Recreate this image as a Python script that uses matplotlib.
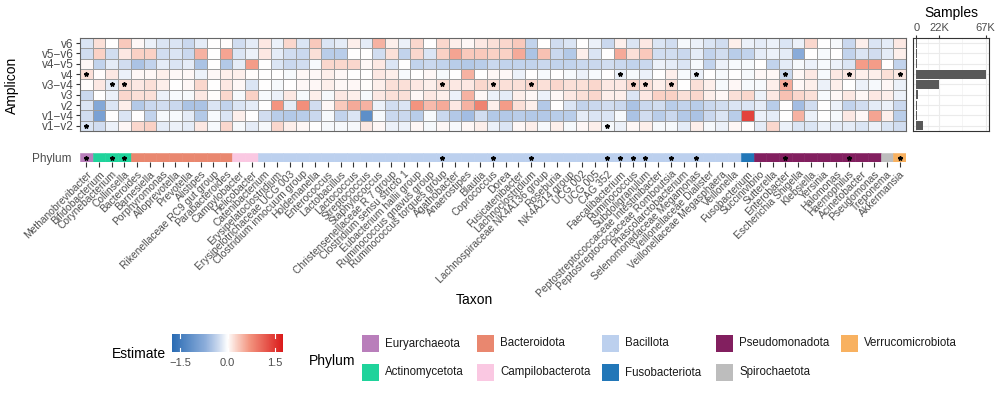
import numpy as np
import matplotlib
matplotlib.use("Agg")
import matplotlib.pyplot as plt
from matplotlib.colors import LinearSegmentedColormap, Normalize
from matplotlib.patches import Rectangle

plt.rcParams['font.family'] = ['Liberation Sans', 'DejaVu Sans']

# taxa, left to right
taxa = ["Methanobrevibacter", "Bifidobacterium", "Corynebacterium", "Collinsella",
        "Bacteroides", "Barnesiella", "Porphyromonas", "Alloprevotella", "Prevotella",
        "Alistipes", "Rikenellaceae RC9 gut group", "Parabacteroides",
        "Campylobacter", "Helicobacter",
        "Catenibacterium", "Erysipelatoclostridium", "Erysipelotrichaceae UCG 003",
        "Clostridium innocuum group", "Holdemanella", "Enterococcus", "Lactobacillus",
        "Lactococcus", "Streptococcus", "Staphylococcus", "Christensenellaceae R 7 group",
        "Clostridium sensu stricto 1", "Eubacterium hallii group", "Ruminococcus gnavus group",
        "Ruminococcus torques group", "Agathobacter", "Anaerostipes", "Blautia",
        "Coprococcus", "Dorea", "Fusicatenibacter", "Lachnoclostridium",
        "Lachnospiraceae NK4A136 group", "Roseburia", "NK4A214 group", "UCG 002",
        "UCG 005", "CAG 352", "Faecalibacterium", "Ruminococcus", "Subdoligranulum",
        "Peptostreptococcaceae Intestinibacter", "Peptostreptococcaceae Romboutsia",
        "Phascolarctobacterium", "Selenomonadaceae Megamonas", "Veillonellaceae Dialister",
        "Veillonellaceae Megasphaera", "Veillonella",
        "Fusobacterium",
        "Succinivibrio", "Sutterella", "Enterobacter", "Escherichia Shigella", "Klebsiella",
        "Yersinia", "Halomonas", "Haemophilus", "Acinetobacter", "Pseudomonas",
        "Treponema", "Akkermansia"]

phyla = ["Euryarchaeota", "Actinomycetota", "Bacteroidota", "Campilobacterota", "Bacillota",
         "Fusobacteriota", "Pseudomonadota", "Spirochaetota", "Verrucomicrobiota"]
phylum_counts = [1, 3, 8, 2, 38, 1, 10, 1, 1]
phylum_colors = ["#B97EBB", "#1FD39B", "#E9876F", "#FAC8E2", "#BCD0EE",
                 "#2277B8", "#821F5F", "#BDBDBD", "#F8B160"]

amplicons = ["v6", "v5\u2212v6", "v4\u2212v5", "v4", "v3\u2212v4", "v3", "v2", "v1\u2212v4", "v1\u2212v2"]

est_v6 = [-0.2, 0.2, 0.0, 0.35, 0.05, -0.1, -0.2, -0.2, -0.3, -0.15, 0.0, 0.02, -0.25,
          -0.15, 0.15, -0.1, 0.25, -0.2, 0.35, -0.2, -0.15, 0.1, -0.15, 0.5, 0.1, -0.1,
          0.25, 0.0, 0.25, 0.1, 0.05, 0.15, 0.2, 0.25, 0.35, -0.35, 0.0, -0.25, -0.2,
          0.0, -0.1, -0.3, 0.1, -0.2, 0.15, -0.2, -0.25, -0.05, -0.1, -0.2, -0.25, 0.1,
          -0.1, -0.15, -0.1, -0.2, -0.1, 0.25, 0.0, -0.05, -0.3, 0.1, -0.2, -0.15, 0.15]
est_v5v6 = [-0.25, 0.3, -0.25, 0.15, 0.3, 0.3, -0.25, -0.2, -0.3, 0.5, 0.0, 0.6, -0.2,
            -0.1, 0.15, -0.15, -0.25, -0.3, 0.2, -0.4, -0.4, 0.0, 0.0, -0.25, 0.2, -0.35,
            0.25, -0.2, 0.3, 0.6, 0.35, 0.35, 0.3, 0.3, 0.55, -0.5, 0.4, -0.3, -0.45,
            0.1, -0.2, 0.0, 0.55, 0.2, 0.35, -0.25, -0.25, -0.3, -0.15, -0.35, -0.25, -0.4,
            -0.35, -0.15, -0.1, -0.15, -0.75, 0.0, -0.05, 0.0, -0.35, -0.2, -0.25, -0.15, 0.1]
est_v4v5 = [0.05, -0.35, -0.15, -0.25, -0.5, -0.35, -0.15, -0.2, -0.15, -0.5, 0.0, -0.45, -0.15,
            0.65, 0.0, -0.2, -0.3, -0.25, -0.05, 0.25, 0.25, 0.25, 0.05, 0.15, -0.2, 0.0,
            -0.35, -0.3, -0.35, -0.4, -0.45, -0.4, -0.3, -0.35, -0.35, -0.35, -0.3, -0.35, -0.35,
            -0.3, -0.3, -0.25, -0.3, -0.35, -0.3, -0.1, -0.15, -0.2, -0.05, -0.35, -0.1, -0.05,
            -0.05, 0.0, -0.35, -0.15, -0.05, -0.1, -0.05, -0.1, -0.2, 0.65, 0.65, 0.0, -0.35]
est_v4 = [0.2, 0.02, 0.15, -0.1, 0.05, 0.05, 0.1, 0.05, 0.05, -0.1, 0.05, 0.1, 0.1,
          0.02, 0.0, 0.0, -0.05, 0.05, 0.05, 0.1, 0.05, 0.0, 0.0, 0.15, 0.1, -0.05,
          0.0, 0.05, -0.05, 0.0, 0.5, 0.0, 0.05, 0.05, -0.1, 0.0, -0.05, 0.0, -0.05,
          -0.1, -0.05, 0.0, -0.1, -0.05, -0.1, 0.0, 0.1, -0.05, -0.1, 0.0, -0.05, 0.0,
          -0.05, 0.05, 0.05, -0.3, 0.05, 0.15, -0.05, 0.15, 0.15, 0.1, 0.1, 0.2, 0.15]
est_v3v4 = [0.02, 0.15, -0.15, 0.2, 0.15, 0.2, 0.1, 0.0, 0.05, 0.25, 0.0, 0.15, 0.05,
            -0.2, 0.0, -0.05, 0.0, 0.05, 0.05, 0.1, 0.05, 0.05, 0.02, 0.1, 0.2, 0.2,
            0.15, 0.1, 0.2, 0.15, 0.15, 0.25, 0.2, 0.2, 0.2, 0.25, 0.2, 0.25, 0.2,
            0.2, 0.25, 0.15, 0.15, 0.25, 0.2, 0.1, 0.2, 0.0, 0.2, 0.1, -0.05, 0.05,
            -0.05, -0.05, 0.1, 0.55, 0.05, 0.1, -0.1, 0.1, 0.0, -0.1, -0.05, 0.05, -0.1]
est_v3 = [-0.3, 0.0, -0.1, 0.25, 0.2, 0.2, -0.1, -0.05, -0.05, 0.15, 0.02, 0.25, -0.05,
          0.3, -0.05, -0.1, 0.15, -0.05, 0.1, -0.05, 0.15, 0.1, -0.05, 0.15, 0.2, 0.2,
          0.05, 0.15, 0.1, -0.1, 0.5, 0.05, -0.1, -0.15, 0.1, 0.05, -0.1, 0.05, 0.15,
          0.2, 0.25, 0.1, 0.1, -0.2, 0.15, 0.3, 0.3, 0.2, 0.25, 0.1, 0.05, 0.2,
          0.25, -0.1, 0.15, 0.4, 0.25, 0.2, -0.05, 0.05, 0.15, 0.05, 0.15, 0.1, -0.1]
est_v2 = [-0.2, -0.8, -0.2, 0.1, -0.45, -0.3, -0.25, -0.3, -0.5, -0.5, -0.2, -0.35, -0.2,
          -0.15, 0.0, 0.7, -0.15, 0.75, -0.25, 0.05, 0.35, 0.55, 0.5, -0.1, -0.25, -0.2,
          0.7, 0.45, 0.55, 0.15, 0.5, 0.85, 0.1, 0.65, 0.2, 0.1, -0.45, 0.0, -0.2,
          -0.35, -0.3, -0.25, -0.3, -0.5, -0.3, -0.25, -0.4, -0.35, -0.4, -0.3, -0.25, -0.2,
          -0.2, -0.15, -0.4, 0.0, -0.55, -0.25, 0.0, -0.1, -0.35, -0.25, -0.15, -0.1, -0.3]
est_v1v4 = [-0.25, -0.9, 0.0, -0.2, 0.0, -0.35, -0.05, -0.05, -0.15, -0.45, -0.05, -0.2, 0.1,
            0.0, -0.25, -0.4, -0.45, -0.4, -0.3, -0.05, -0.35, -0.2, -1.2, -0.05, -0.3, -0.3,
            -0.4, -0.05, -0.3, -0.45, -0.55, -0.25, -0.45, -0.45, -0.4, -0.45, -0.45, -0.4, -0.4,
            -0.15, -0.2, -0.2, -0.05, -0.5, -0.25, -0.4, -0.3, -0.45, -0.5, -0.3, -0.2, -0.4,
            1.4, -0.1, -0.15, 0.0, 0.5, -0.1, 0.0, -0.05, 0.15, 0.05, 0.6, 0.1, -0.4]
est_v1v2 = [-0.2, -0.25, -0.1, 0.05, 0.25, 0.3, -0.15, -0.1, -0.15, 0.15, -0.05, 0.25, -0.05,
            -0.15, -0.05, 0.25, 0.1, 0.05, 0.0, -0.05, -0.05, -0.05, 0.15, 0.05, -0.1, -0.1,
            0.05, -0.05, 0.05, -0.05, 0.05, 0.1, -0.1, -0.2, 0.05, 0.1, -0.05, 0.1, -0.05,
            0.05, 0.1, -0.05, -0.1, 0.05, 0.1, -0.05, -0.05, -0.15, 0.1, -0.05, -0.1, 0.05,
            0.0, -0.15, 0.25, -0.1, -0.2, -0.2, -0.1, -0.15, -0.15, -0.2, -0.1, -0.2, -0.25]

# significant cells (1-based taxon numbers)
stars_v4 = [1, 43, 49, 56, 61, 65]
stars_v3v4 = [3, 4, 29, 33, 36, 44, 45, 47, 56]
stars_v1v2 = [1, 42]

# total samples per amplicon (top to bottom)
samples = [300, 400, 1000, 67000, 21500, 1800, 300, 300, 6500]
sample_ticks = [0, 22000, 67000]
sample_labels = ["0", "22K", "67K"]

estimate = np.array([est_v6, est_v5v6, est_v4v5, est_v4, est_v3v4,
                     est_v3, est_v2, est_v1v4, est_v1v2])
n_amp, n_tax = estimate.shape

cmap = LinearSegmentedColormap.from_list(
    "est", [(0, "#2B6CB4"), (0.3, "#8DAEDB"), (0.42, "#CCDAEF"), (0.5, "#FFFFFF"),
            (0.58, "#FAD3C8"), (0.7, "#F39580"), (1, "#DB1B1B")])
lim = 1.75
norm = Normalize(-lim, lim)
txt = "#4D4D4D"

fig = plt.figure(figsize=(10, 3.93), dpi=100)
W, H = 1000.0, 393.0


def box(x0, y0, x1, y1):
    return [x0 / W, 1 - y1 / H, (x1 - x0) / W, (y1 - y0) / H]


# heatmap
ax = fig.add_axes(box(80, 38, 906, 131))
ax.pcolormesh(np.arange(n_tax + 1), np.arange(n_amp + 1), estimate, cmap=cmap, norm=norm,
              edgecolors="#9E9E9E", linewidth=0.5)
ax.set_xlim(0, n_tax)
ax.set_ylim(n_amp, 0)
ax.set_xticks([])
ax.set_yticks(np.arange(n_amp) + 0.5)
ax.set_yticklabels(amplicons, fontsize=8.5, color=txt)
ax.tick_params(axis="y", length=3, width=0.8, color="#333333", pad=1.5)
for s in ax.spines.values():
    s.set_color("#666666")
    s.set_linewidth(0.8)
for row, lst in [(3, stars_v4), (4, stars_v3v4), (8, stars_v1v2)]:
    ax.plot(np.array(lst) - 0.5, np.full(len(lst), row + 0.5), ls="none", marker="*",
            ms=3.2, color="black")
fig.text(12 / W, 1 - 85 / H, "Amplicon", rotation=90, ha="center", va="center", fontsize=10)

# samples bars
axs = fig.add_axes(box(913, 38, 989, 131))
axs.set_axisbelow(True)
axs.barh(np.arange(n_amp) + 0.5, samples, height=0.9, color="#595959")
axs.set_ylim(n_amp, 0)
axs.set_xlim(-3350, 70350)
axs.xaxis.tick_top()
axs.set_xticks(sample_ticks)
axs.set_xticklabels(sample_labels, fontsize=8, color=txt)
axs.set_xticks([11000, 44500], minor=True)
axs.set_yticks(np.arange(n_amp) + 0.5)
axs.set_yticklabels([])
axs.tick_params(axis="y", length=0)
axs.tick_params(axis="x", which="major", length=2.5, width=0.8, color="#333333", pad=1)
axs.tick_params(axis="x", which="minor", length=0)
axs.grid(True, which="major", color="#EBEBEB", lw=0.8)
axs.grid(True, which="minor", axis="x", color="#F2F2F2", lw=0.5)
for s in axs.spines.values():
    s.set_color("#333333")
    s.set_linewidth(0.8)
fig.text(951 / W, 1 - 13 / H, "Samples", ha="center", va="center", fontsize=10)

# phylum strip with taxon labels
taxon_phylum = np.repeat(np.arange(len(phyla)), phylum_counts)
axp = fig.add_axes(box(80, 153, 906, 162))
cols = [phylum_colors[k] for k in taxon_phylum]
axp.bar(np.arange(n_tax) + 0.5, 1, width=1.0, color=cols, edgecolor=cols, linewidth=0.4)
star_taxa = sorted(set(stars_v4 + stars_v3v4 + stars_v1v2))
axp.plot(np.array(star_taxa) - 0.5, np.full(len(star_taxa), 0.5), ls="none", marker="*",
         ms=3.2, color="black")
axp.set_xlim(0, n_tax)
axp.set_ylim(0, 1)
for s in axp.spines.values():
    s.set_visible(False)
axp.set_yticks([0.5])
axp.set_yticklabels(["Phylum"], fontsize=8.5, color=txt)
axp.tick_params(axis="y", length=0, pad=6)
axp.set_xticks(np.arange(n_tax) + 0.5)
axp.set_xticklabels(taxa, rotation=45, ha="right", va="top", rotation_mode="anchor",
                    fontsize=7.4, color=txt)
axp.tick_params(axis="x", length=3.5, width=0.8, color="#333333", pad=1.5)
fig.text(474 / W, 1 - 300 / H, "Taxon", ha="center", va="center", fontsize=10)

# colour bar legend
axc = fig.add_axes(box(172, 334, 283, 352))
grad = np.linspace(-lim, lim, 300)[None, :]
axc.imshow(grad, extent=[-lim, lim, 0, 1], aspect="auto", cmap=cmap, norm=norm)
for t in [-1.5, 0.0, 1.5]:
    axc.plot([t, t], [0, 0.2], color="white", lw=0.8)
    axc.plot([t, t], [0.8, 1], color="white", lw=0.8)
axc.set_xlim(-lim, lim)
axc.set_ylim(0, 1)
axc.set_xticks([-1.5, 0.0, 1.5])
axc.set_xticklabels(["\u22121.5", "0.0", "1.5"], fontsize=8, color=txt)
axc.tick_params(axis="x", length=0, pad=4)
axc.set_yticks([])
for s in axc.spines.values():
    s.set_visible(False)
fig.text(166 / W, 1 - 354 / H, "Estimate", ha="right", va="center", fontsize=10)

# phylum legend
lg = fig.add_axes([0, 0, 1, 1])
lg.set_xlim(0, W)
lg.set_ylim(H, 0)
lg.axis("off")
lg.text(309, 361, "Phylum", ha="left", va="center", fontsize=10)
col_x = [362, 477, 602, 716, 841]
row_y = [335, 364]
for k, (name, c) in enumerate(zip(phyla, phylum_colors)):
    x0 = col_x[k // 2]
    y0 = row_y[k % 2]
    lg.add_patch(Rectangle((x0, y0), 17, 17, facecolor=c, edgecolor="none"))
    lg.text(x0 + 23, y0 + 8.5, name, ha="left", va="center", fontsize=8.3, color="#1A1A1A")

fig.savefig("out.png", dpi=100)
